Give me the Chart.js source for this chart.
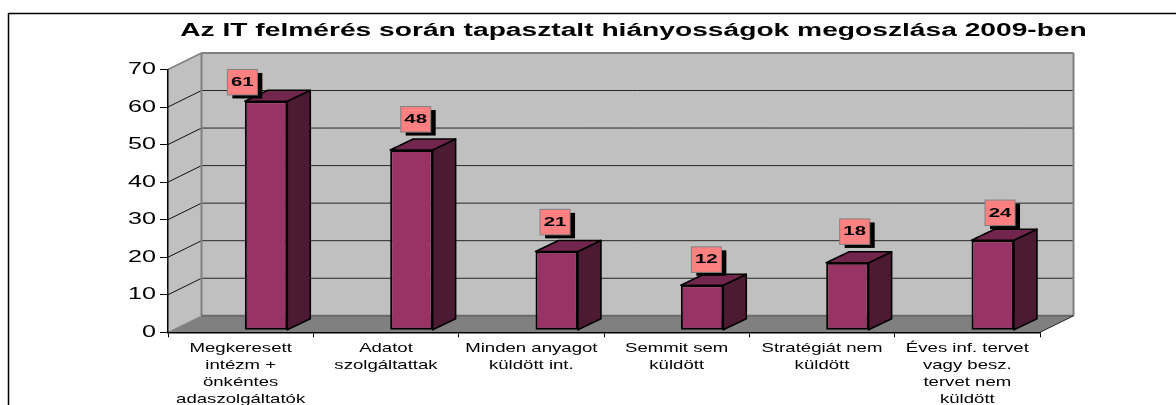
<!DOCTYPE html>
<html><head><meta charset="utf-8">
<style>html,body{margin:0;padding:0;background:#fff;overflow:hidden}canvas{display:block;filter:blur(0.35px)}</style>
<script src="https://cdn.jsdelivr.net/npm/chart.js@4"></script>
</head><body><canvas id="c" width="1176" height="405"></canvas>
<script>
const titleText = 'Az IT felmérés során tapasztalt hiányosságok megoszlása 2009-ben';
const categories = [
  ['Megkeresett','intézm +','önkéntes','adaszolgáltatók'],
  ['Adatot','szolgáltattak'],
  ['Minden anyagot','küldött int.'],
  ['Semmit sem','küldött'],
  ['Stratégiát nem','küldött'],
  ['Éves inf. tervet','vagy besz.','tervet nem','küldött']
];
const values = [61, 48, 21, 12, 18, 24];
const yTicks = [0, 10, 20, 30, 40, 50, 60, 70];
// hand-placed data-label nudges in the source chart, relative to the bar
const labelShiftX = [-24, 4, -2, 4, 7, 7];
const labelGap = [6, 17.7, 16.3, 12.6, 18, 14.3];

const STRETCH = 1.5;            // source text is horizontally stretched
const WALL = {dx: 33.5, dy: -16.5};
const BAR = {dx: 25.4, dy: -2.0, depthX: 23, depthY: -11};
const COL = {wall:'#C0C0C0', floor:'#808080', edge:'#808080', grid:'#262626',
  front:'#993366', side:'#4D1A33', top:'#73264D', label:'#FF8080'};

const canvas = document.getElementById('c');
const ctx0 = canvas.getContext('2d');
const rawFill = ctx0.fillText.bind(ctx0);
ctx0.fillText = function(t, x, y){
  ctx0.save(); ctx0.translate(x, y); ctx0.scale(STRETCH, 1);
  rawFill(t, 0, 0); ctx0.restore();
};

function poly(c, pts, fill, stroke, lw){
  c.beginPath(); pts.forEach((p,i)=> i ? c.lineTo(p[0],p[1]) : c.moveTo(p[0],p[1])); c.closePath();
  if(fill){c.fillStyle=fill;c.fill();}
  if(stroke){c.strokeStyle=stroke;c.lineWidth=lw||1;c.stroke();}
}
function line(c,x1,y1,x2,y2,col,lw){
  c.beginPath();c.moveTo(x1,y1);c.lineTo(x2,y2);c.strokeStyle=col;c.lineWidth=lw;c.stroke();
}

const scene = {
  id:'scene',
  afterLayout(chart){
    chart.titleBlock.left = 0; chart.titleBlock.right = 1267;
  },
  beforeDraw(chart){
    const c = chart.ctx, x = chart.scales.x, y = chart.scales.y;
    const L = x.left, R = x.right, B = y.getPixelForValue(0), T = y.getPixelForValue(70);
    const {dx,dy} = WALL;
    c.save();
    c.fillStyle='#fff'; c.fillRect(0,0,chart.width,chart.height);
    line(c,0+8,13.5,chart.width,13.5,'#000',1.5);
    line(c,8.5,13,8.5,chart.height,'#000',1.5);
    poly(c,[[L+dx,T+dy],[R+dx,T+dy],[R+dx,B+dy],[L+dx,B+dy]],COL.wall);
    poly(c,[[L,T],[L+dx,T+dy],[L+dx,B+dy],[L,B]],COL.wall);
    poly(c,[[L,B],[L+dx,B+dy],[R+dx,B+dy],[R,B]],COL.floor);
    yTicks.forEach(v=>{
      if(v===0||v===70) return;
      const p = y.getPixelForValue(v);
      line(c,L,p,L+dx,p+dy,'#111',1);
      line(c,L+dx,p+dy,R+dx,p+dy,COL.grid,1);
    });
    line(c,L,T,L+dx,T+dy,COL.edge,1.5);
    line(c,L,B,L+dx,B+dy,'#8a8a8a',1);
    line(c,L+dx,T+dy,R+dx,T+dy,COL.edge,2);
    line(c,L+dx,T+dy,L+dx,B+dy,COL.edge,2);
    line(c,R+dx,T+dy,R+dx,B+dy,COL.edge,2);
    line(c,L+dx,B+dy,R+dx,B+dy,'#6a6a6a',2);
    line(c,R,B,R+dx,B+dy,'#222',1);
    c.restore();
  },
  beforeDatasetDraw(chart){
    const c = chart.ctx;
    c.save(); c.translate(BAR.dx, BAR.dy);
    chart.getDatasetMeta(0).data.forEach(el=>{
      const l=el.x-el.width/2, r=el.x+el.width/2, t=el.y, b=el.base;
      const {depthX:a, depthY:d} = BAR;
      c.lineJoin='round';
      poly(c,[[r,t],[r+a,t+d],[r+a,b+d],[r,b]],COL.side,'#000',1.6);
      poly(c,[[l,t],[l+a,t+d],[r+a,t+d],[r,t]],COL.top,'#000',1.6);
    });
  },
  afterDatasetDraw(chart){ chart.ctx.restore(); },
  afterDatasetsDraw(chart){
    const c = chart.ctx;
    c.save();
    chart.getDatasetMeta(0).data.forEach((el,i)=>{
      const w=30,h=25.5;
      const cx = el.x+25.7+labelShiftX[i];
      const bottom = el.y-2.3-labelGap[i];
      const l=cx-w/2, t=bottom-h;
      c.fillStyle='#000'; c.fillRect(l+5,t+3.5,w,h);
      c.fillStyle=COL.label; c.fillRect(l,t,w,h);
      c.strokeStyle='#808080'; c.lineWidth=1; c.strokeRect(l,t,w,h);
      c.fillStyle='#000'; c.font='bold 13.6px "Liberation Sans"';
      c.textAlign='center'; c.textBaseline='middle';
      c.fillText(String(values[i]),cx,t+h/2);
    });
    c.restore();
  }
};

new Chart(canvas,{
  type:'bar',
  data:{labels:categories,datasets:[{
    data:values, backgroundColor:COL.front, borderColor:'#000', borderWidth:2,
    borderSkipped:false, categoryPercentage:1, barPercentage:0.292, clip:false
  }]},
  plugins:[scene],
  options:{
    responsive:false, animation:false, maintainAspectRatio:false,
    layout:{padding:{left:0,right:136,top:0,bottom:0}},
    plugins:{
      legend:{display:false}, tooltip:{enabled:false},
      title:{display:true,text:titleText,color:'#000',
        font:{family:'"Liberation Sans"',size:18.8,weight:'bold',lineHeight:1.2},
        padding:{top:19.7,bottom:27.2}}
    },
    scales:{
      x:{
        afterFit(s){s.height=405-332.3;},
        grid:{drawOnChartArea:false,drawTicks:true,tickLength:5,tickColor:'#000',tickWidth:1},
        border:{color:'#000',width:1.5},
        ticks:{color:'#000',autoSkip:false,maxRotation:0,minRotation:0,padding:3,
          font:{family:'"Liberation Sans"',size:12.4,lineHeight:16.8/12.4}}
      },
      y:{
        min:0,max:70,
        afterFit(s){s.width=168;},
        afterBuildTicks(s){s.ticks=yTicks.map(v=>({value:v}));},
        grid:{drawOnChartArea:false,drawTicks:true,tickLength:8,tickColor:'#000',tickWidth:1},
        border:{color:'#000',width:1.5},
        ticks:{color:'#000',padding:4,font:{family:'"Liberation Sans"',size:16.8}}
      }
    }
  }
});
</script></body></html>
